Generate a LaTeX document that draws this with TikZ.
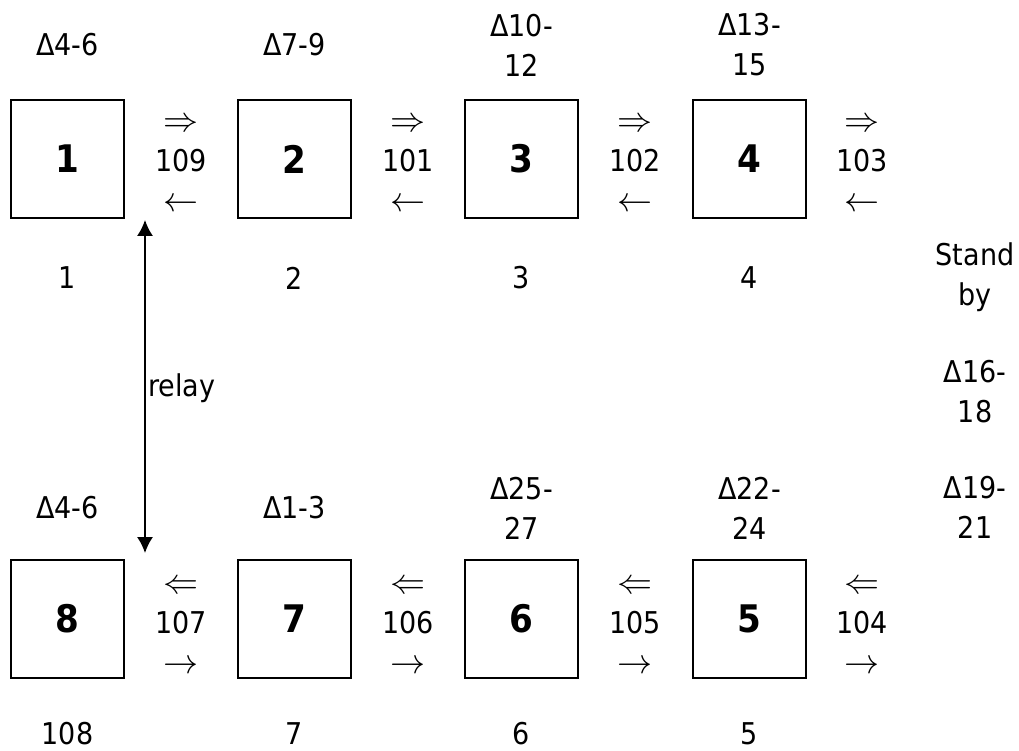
\RequirePackage{fix-cm}
\documentclass[tikz,border=0pt]{standalone}
\usepackage{fontspec}
\setmainfont{DejaVu Sans Condensed}
\usetikzlibrary{arrows.meta}
\newcommand{\bigar}[1]{{\fontsize{35}{40}\selectfont$#1$}}
\begin{document}
\begin{tikzpicture}[x=1pt,y=-1pt,
  box/.style={draw,line width=1.8pt,minimum width=113pt,minimum height=118pt,inner sep=0pt,font=\fontsize{38}{44}\selectfont\bfseries},
  lbl/.style={inner sep=0pt,align=center,font=\fontsize{30}{40}\selectfont},
  flow/.style={inner sep=0pt,align=center,font=\fontsize{30}{40}\selectfont},
  relay/.style={line width=1.5pt,{Latex[length=16pt,width=16pt]}-{Latex[length=16pt,width=16pt]}}]
\useasboundingbox (0,0) rectangle (1019,751);
% boxes
\node[box] (b1) at (67.5,159) {1};
\node[box] (b2) at (294.5,159) {2};
\node[box] (b3) at (521.5,159) {3};
\node[box] (b4) at (749.5,159) {4};
\node[box] (b8) at (67.5,619) {8};
\node[box] (b7) at (294.5,619) {7};
\node[box] (b6) at (521.5,619) {6};
\node[box] (b5) at (749.5,619) {5};
% top labels
\node[lbl] (t1) at (67.5,45) {Δ4-6};
\node[lbl] (t2) at (294.5,45) {Δ7-9};
\node[lbl] (t3) at (521.5,45) {Δ10-\\12};
\node[lbl] (t4) at (749.5,45) {Δ13-\\15};
% bottom labels above boxes
\node[lbl] (u8) at (67.5,508) {Δ4-6};
\node[lbl] (u7) at (294.5,508) {Δ1-3};
\node[lbl] (u6) at (521.5,508) {Δ25-\\27};
\node[lbl] (u5) at (749.5,508) {Δ22-\\24};
% numbers below boxes
\node[lbl] (n1) at (67.5,278) {1};
\node[lbl] (n2) at (294.5,278) {2};
\node[lbl] (n3) at (521.5,278) {3};
\node[lbl] (n4) at (749.5,278) {4};
\node[lbl] (n8) at (67.5,734) {108};
\node[lbl] (n7) at (294.5,734) {7};
\node[lbl] (n6) at (521.5,734) {6};
\node[lbl] (n5) at (749.5,734) {5};
% flow labels
\node[flow] (f1) at (181,165) {\bigar{\Rightarrow}\\109\\\bigar{\leftarrow}};
\node[flow] (f2) at (408,165) {\bigar{\Rightarrow}\\101\\\bigar{\leftarrow}};
\node[flow] (f3) at (635,165) {\bigar{\Rightarrow}\\102\\\bigar{\leftarrow}};
\node[flow] (f4) at (862,165) {\bigar{\Rightarrow}\\103\\\bigar{\leftarrow}};
\node[flow] (g1) at (181,627) {\bigar{\Leftarrow}\\107\\\bigar{\rightarrow}};
\node[flow] (g2) at (408,627) {\bigar{\Leftarrow}\\106\\\bigar{\rightarrow}};
\node[flow] (g3) at (635,627) {\bigar{\Leftarrow}\\105\\\bigar{\rightarrow}};
\node[flow] (g4) at (862,627) {\bigar{\Leftarrow}\\104\\\bigar{\rightarrow}};
% right column
\node[lbl] (s1) at (975,277) {Stand\\by};
\node[lbl] (s2) at (975,392) {Δ16-\\18};
\node[lbl] (s3) at (975,507) {Δ19-\\21};
% relay
\coordinate (r1) at (145,220);
\coordinate (r2) at (145,553);
\draw[relay] (r1) -- (r2);
\node[lbl,anchor=west] (rl) at (148,388) {relay};
\end{tikzpicture}
\end{document}
